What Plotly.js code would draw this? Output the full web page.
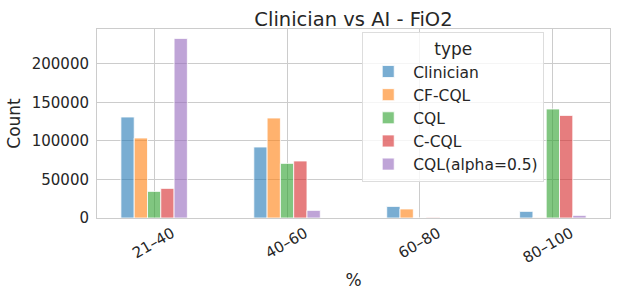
<!DOCTYPE html>
<html><head><meta charset="utf-8">
<script src="https://cdn.plot.ly/plotly-3.0.1.min.js"></script>
<style>html,body{margin:0;padding:0;background:#fff}</style>
</head><body><div id="chart" style="width:617px;height:297px"></div>
<script>
const categories = ["21–40", "40–60", "60–80", "80–100"];
const seriesNames = ["Clinician", "CF-CQL", "CQL", "C-CQL", "CQL(alpha=0.5)"];
const clinician = [130900, 92000, 15000, 8600];
const cfcql = [103700, 129600, 11700, 500];
const cql = [34500, 70800, 0, 141300];
const ccql = [38400, 73900, 800, 133000];
const cqlAlpha = [232800, 9900, 0, 3400];
const colors = ["rgba(31,119,180,0.6)", "rgba(255,127,14,0.6)", "rgba(44,160,44,0.6)", "rgba(214,39,40,0.6)", "rgba(148,103,189,0.6)"];
const yTicks = [0, 50000, 100000, 150000, 200000];

const values = [clinician, cfcql, cql, ccql, cqlAlpha];
const traces = seriesNames.map((n, i) => ({
  type: "bar", name: n, x: categories, y: values[i],
  marker: {color: colors[i], line: {color: "rgba(255,255,255,0.8)", width: 1}}
}));
const font = {family: "DejaVu Sans, sans-serif", color: "#262626"};
const layout = {
  width: 617, height: 297,
  margin: {l: 97, r: 7, t: 29, b: 79},
  paper_bgcolor: "#fff", plot_bgcolor: "#fff",
  font: Object.assign({size: 15}, font),
  title: {text: "Clinician vs AI - FiO2", x: 0.5, xanchor: "center", xref: "paper",
          yref: "paper", y: 1, yanchor: "bottom", pad: {b: 3},
          font: Object.assign({size: 19.5}, font)},
  barmode: "group", bargap: 0.5, bargroupgap: 0,
  xaxis: {
    type: "category", range: [-0.43, 3.43], tickangle: -30,
    showgrid: true, gridcolor: "#cccccc", gridwidth: 1,
    showline: true, linecolor: "#cccccc", mirror: true, ticks: "",
    ticklabelshift: 18, ticklabelstandoff: 0,
    tickfont: Object.assign({size: 15}, font),
    title: {text: "%", font: Object.assign({size: 17}, font), standoff: 8}
  },
  yaxis: {
    range: [0, 245000], tickvals: yTicks, ticktext: yTicks.map(String),
    showgrid: true, gridcolor: "#cccccc", gridwidth: 1, zeroline: false,
    showline: true, linecolor: "#cccccc", mirror: true, ticks: "",
    ticklabelstandoff: 4,
    tickfont: Object.assign({size: 15}, font),
    title: {text: "Count", font: Object.assign({size: 17}, font), standoff: 6}
  },
  legend: {
    x: 0.517, y: 0.985, xanchor: "left", yanchor: "top",
    bgcolor: "rgba(255,255,255,0.8)", bordercolor: "#dddddd", borderwidth: 1,
    font: Object.assign({size: 15.5}, font), itemwidth: 40,
    title: {text: "type", side: "top center", font: Object.assign({size: 17}, font)},
    tracegroupgap: 0
  },
  showlegend: true
};
Plotly.newPlot("chart", traces, layout, {displayModeBar: false, staticPlot: true});
</script></body></html>
